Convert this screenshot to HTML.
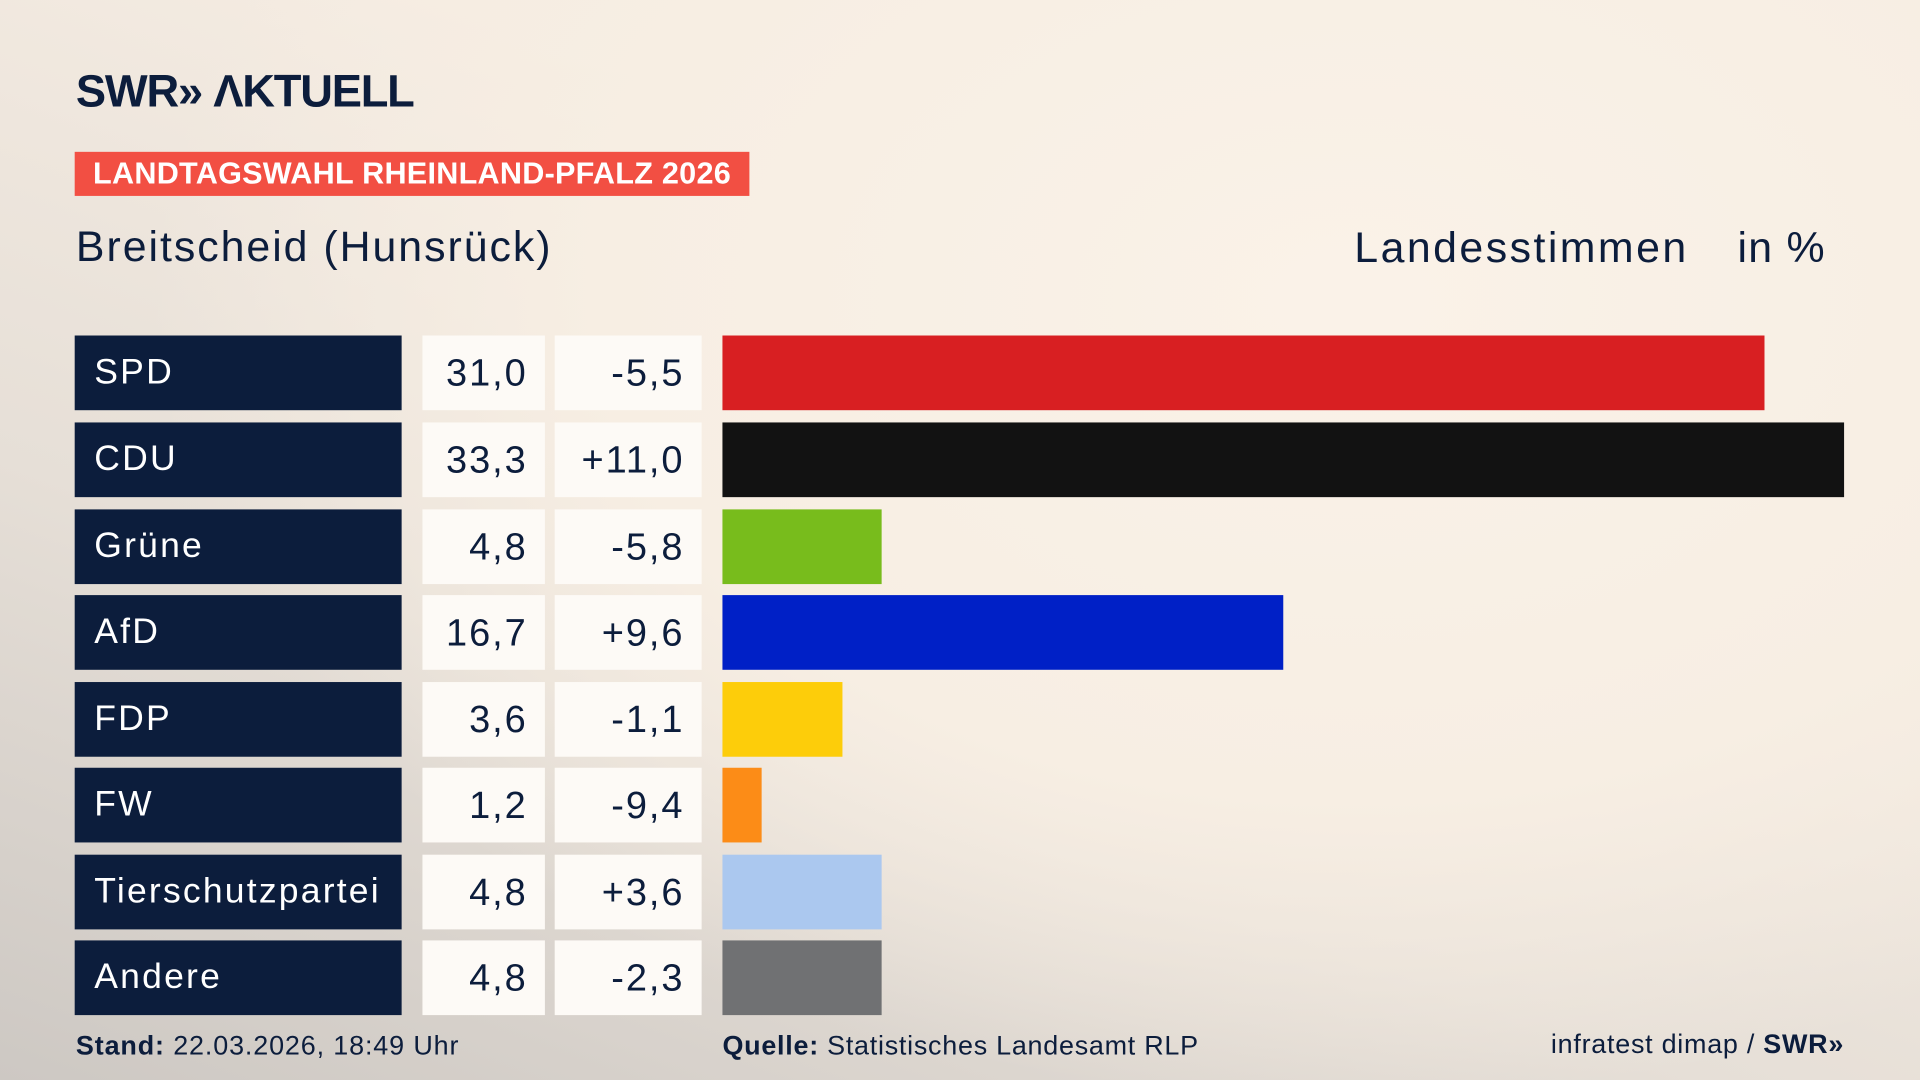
<!DOCTYPE html>
<html><head><meta charset="utf-8"><style>
html,body{margin:0;padding:0;width:1920px;height:1080px;overflow:hidden}
body{background:#f8efe4}
#bg{position:absolute;left:0;top:0;width:1920px;height:1080px;
background:radial-gradient(ellipse 1500px 1000px at 1350px 300px,#faf2e8 0%,#f7eee3 50%,rgba(247,238,227,0) 80%),linear-gradient(20deg,#cdc8c3 0%,#e6dfd7 35%,#f5ece2 70%,#f8efe4 100%)}
#c{position:absolute;left:0;top:0;width:1568px;height:882px;transform:scale(1.22449);transform-origin:0 0;font-family:"Liberation Sans",sans-serif;color:#0c1d3c}
.a{position:absolute;white-space:nowrap}
.p{position:absolute;left:61px;width:267px;height:61px;background:#0c1d3c;color:#fff;font-size:29px;letter-spacing:1.8px;line-height:61px;padding-left:16px;box-sizing:border-box}
.v{position:absolute;left:345px;width:100px;height:61px;background:#fdfaf6;font-size:31px;letter-spacing:1.6px;line-height:61px;text-align:right;padding-right:14px;box-sizing:border-box;color:#0c1d3c}
.d{position:absolute;left:453px;width:120px;height:61px;background:#fdfaf6;font-size:31px;letter-spacing:1.6px;line-height:61px;text-align:right;padding-right:14px;box-sizing:border-box;color:#0c1d3c}
.b{position:absolute;left:590px;height:61px}
</style></head><body><div id="bg"></div>
<div id="c">
<div class="a" style="left:62px;top:54px;font-size:37px;font-weight:bold;letter-spacing:-1px">SWR&#187; ΛKTUELL</div>
<div class="a" style="left:61px;top:124px;width:551px;height:36px;background:#f24f43;color:#fff;font-weight:bold;font-size:25px;line-height:36px;padding-left:15px;box-sizing:border-box;letter-spacing:0.2px">LANDTAGSWAHL RHEINLAND-PFALZ 2026</div>
<div class="a" style="left:62px;top:182px;font-size:35px;letter-spacing:1.6px">Breitscheid (Hunsrück)</div>
<div class="a" style="left:1106px;top:183px;font-size:35px;letter-spacing:2px">Landesstimmen</div>
<div class="a" style="left:1419px;top:183px;font-size:35px;letter-spacing:1px">in %</div>

<div class="p" style="top:274px">SPD</div><div class="v" style="top:274px">31,0</div><div class="d" style="top:274px">-5,5</div><div class="b" style="top:274px;width:851px;background:#d81f22"></div>
<div class="p" style="top:345px">CDU</div><div class="v" style="top:345px">33,3</div><div class="d" style="top:345px">+11,0</div><div class="b" style="top:345px;width:916px;background:#121212"></div>
<div class="p" style="top:416px">Grüne</div><div class="v" style="top:416px">4,8</div><div class="d" style="top:416px">-5,8</div><div class="b" style="top:416px;width:130px;background:#78bc1c"></div>
<div class="p" style="top:486px">AfD</div><div class="v" style="top:486px">16,7</div><div class="d" style="top:486px">+9,6</div><div class="b" style="top:486px;width:458px;background:#0020c6"></div>
<div class="p" style="top:557px">FDP</div><div class="v" style="top:557px">3,6</div><div class="d" style="top:557px">-1,1</div><div class="b" style="top:557px;width:98px;background:#fdcd0a"></div>
<div class="p" style="top:627px">FW</div><div class="v" style="top:627px">1,2</div><div class="d" style="top:627px">-9,4</div><div class="b" style="top:627px;width:32px;background:#fc8c17"></div>
<div class="p" style="top:698px">Tierschutzpartei</div><div class="v" style="top:698px">4,8</div><div class="d" style="top:698px">+3,6</div><div class="b" style="top:698px;width:130px;background:#abc8ef"></div>
<div class="p" style="top:768px">Andere</div><div class="v" style="top:768px">4,8</div><div class="d" style="top:768px">-2,3</div><div class="b" style="top:768px;width:130px;background:#707173"></div>

<div class="a" style="left:62px;top:841px;font-size:22px;letter-spacing:0.7px"><b>Stand:</b> 22.03.2026, 18:49 Uhr</div>
<div class="a" style="left:590px;top:841px;font-size:22px;letter-spacing:0.6px"><b>Quelle:</b> Statistisches Landesamt RLP</div>
<div class="a" style="right:62px;top:840px;font-size:22px;letter-spacing:0.6px">infratest dimap / <b>SWR&#187;</b></div>
</div></body></html>
